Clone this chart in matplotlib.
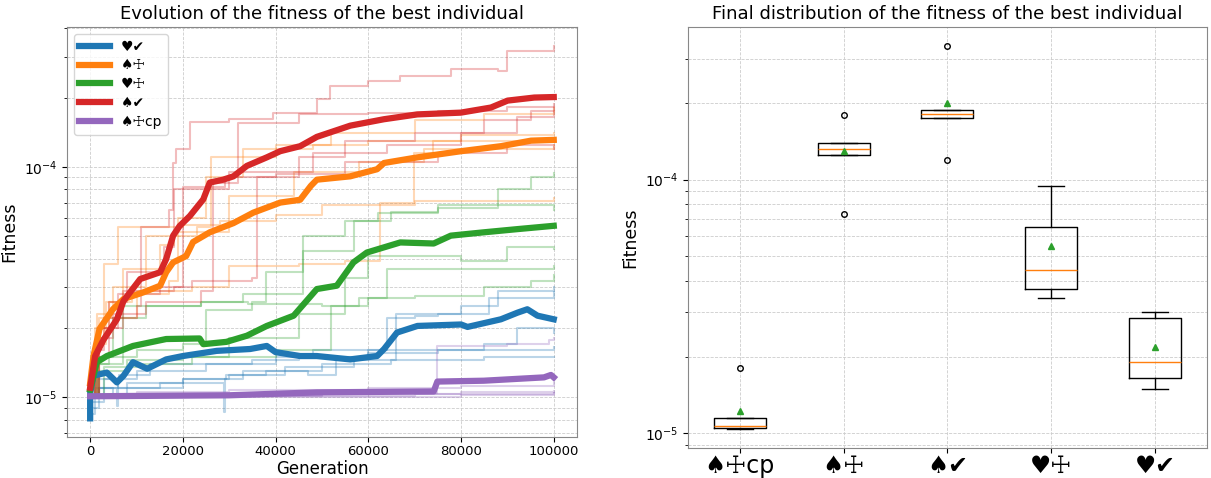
import numpy as np
import matplotlib.pyplot as plt

# legend / group labels and colours
labels = ["♥✔", "♠☩", "♥☩", "♠✔", "♠☩cp"]
colors = ["tab:blue", "tab:orange", "tab:green", "tab:red", "tab:purple"]

# thick lines: mean fitness of the best individual (generation, fitness)
mean_gen = {
    "♥✔": [0, 0, 720, 3600, 5770, 7200, 9240, 12300, 16400, 20000, 27300, 34500, 38100, 40000,
           45300, 48900, 56100, 61900, 63400, 66200, 70600, 80000, 81400, 88600, 92200, 94300,
           96500, 100000],
    "♠☩": [0, 720, 2020, 4900, 7200, 11400, 15100, 16400, 17900, 20700, 22200, 25800, 30900,
           35200, 41000, 45300, 47600, 48900, 56100, 61900, 63400, 70600, 80000, 88600, 95100,
           100000],
    "♥☩": [0, 1440, 3600, 9240, 16400, 23600, 24400, 29400, 33800, 38100, 43900, 48900, 53200,
           56800, 59700, 66900, 74100, 77800, 84900, 92200, 100000],
    "♠✔": [0, 1080, 2900, 5770, 7200, 10800, 15100, 16400, 17900, 19300, 21500, 24400, 25800,
           28700, 30900, 33800, 38100, 41000, 45300, 48900, 56100, 63350, 70570, 79950, 86450,
           90060, 95800, 100000],
    "♠☩cp": [0, 30000, 48900, 74100, 74900, 84900, 97900, 99400, 100000],
}
mean_fit = {
    "♥✔": [8.1e-6, 1.04e-5, 1.24e-5, 1.28e-5, 1.16e-5, 1.24e-5, 1.42e-5, 1.33e-5, 1.46e-5,
           1.51e-5, 1.59e-5, 1.62e-5, 1.67e-5, 1.57e-5, 1.51e-5, 1.51e-5, 1.46e-5, 1.51e-5,
           1.62e-5, 1.91e-5, 2.04e-5, 2.07e-5, 2.02e-5, 2.18e-5, 2.33e-5, 2.41e-5, 2.26e-5,
           2.18e-5],
    "♠☩": [1.15e-5, 1.51e-5, 1.98e-5, 2.41e-5, 2.67e-5, 2.85e-5, 3.05e-5, 3.49e-5, 3.85e-5,
           4.1e-5, 4.72e-5, 5.2e-5, 5.7e-5, 6.33e-5, 7.0e-5, 7.2e-5, 8.27e-5, 8.8e-5, 9.1e-5,
           9.77e-5, 1.04e-4, 1.1e-4, 1.17e-4, 1.23e-4, 1.3e-4, 1.31e-4],
    "♥☩": [1.08e-5, 1.42e-5, 1.51e-5, 1.67e-5, 1.79e-5, 1.8e-5, 1.7e-5, 1.74e-5, 1.85e-5,
           2.04e-5, 2.26e-5, 2.95e-5, 3.05e-5, 3.85e-5, 4.25e-5, 4.7e-5, 4.65e-5, 5.03e-5,
           5.2e-5, 5.37e-5, 5.55e-5],
    "♠✔": [1.1e-5, 1.51e-5, 1.78e-5, 2.18e-5, 2.62e-5, 3.26e-5, 3.49e-5, 3.98e-5, 5.03e-5,
           5.54e-5, 6.12e-5, 7.23e-5, 8.55e-5, 8.8e-5, 9.1e-5, 1.01e-4, 1.1e-4, 1.17e-4,
           1.23e-4, 1.35e-4, 1.51e-4, 1.61e-4, 1.69e-4, 1.72e-4, 1.81e-4, 1.94e-4, 2.0e-4,
           2.01e-4],
    "♠☩cp": [1.01e-5, 1.02e-5, 1.05e-5, 1.06e-5, 1.17e-5, 1.18e-5, 1.22e-5, 1.25e-5, 1.22e-5],
}

# thin lines: individual runs (generation, fitness), 5 runs per group
runs_gen = {
    "♥✔": [
        [0, 2000, 8000, 20000, 30000, 38000, 47000, 53000, 60000, 66000, 80000, 88000, 100000],
        [0, 3000, 10000, 25000, 40000, 48000, 64000, 70000, 75000, 86000, 100000],
        [0, 1500, 6000, 15000, 28800, 29000, 29300, 42000, 57000, 66000, 85000, 92000, 100000],
        [0, 2000, 5800, 6000, 6300, 13000, 35000, 45000, 60000, 75000, 100000],
        [0, 1000, 5000, 8000, 20000, 33000, 50000, 65000, 85000, 100000],
    ],
    "♠☩": [
        [0, 1500, 3000, 6000, 20000, 28000, 40000, 50000, 70000, 100000],
        [0, 2000, 10000, 22000, 30000, 45000, 55000, 62600, 69800, 74000, 100000],
        [0, 1000, 4000, 9000, 17000, 19000, 25000, 33000, 48000, 60000, 80000, 100000],
        [0, 1500, 5000, 12000, 23000, 26000, 40000, 52000, 70000, 85000, 100000],
        [0, 1000, 3500, 7000, 15000, 18000, 30000, 44000, 58000, 72000, 100000],
    ],
    "♥☩": [
        [0, 1000, 4000, 10000, 20000, 25000, 35000, 38000, 46000, 55000, 65000, 75000, 88000,
         95000, 100000],
        [0, 1500, 5000, 12000, 24000, 33000, 46000, 57000, 62000, 75000, 100000],
        [0, 2000, 8000, 20000, 30000, 45000, 55000, 60000, 80000, 90000, 100000],
        [0, 3000, 10000, 22000, 40000, 52000, 60000, 64000, 80000, 100000],
        [0, 2000, 7000, 24000, 34000, 50000, 58000, 70000, 85000, 95000, 100000],
    ],
    "♠✔": [
        [0, 1000, 3000, 10000, 11000, 17000, 17900, 18600, 21500, 30000, 39500, 48900, 51800,
         60000, 66900, 77800, 88000, 90000, 100000],
        [0, 1500, 5000, 12000, 24000, 26500, 32000, 45000, 60000, 75000, 90000, 100000],
        [0, 2000, 6000, 15000, 22000, 35000, 36000, 45000, 55000, 70000, 85000, 95000, 100000],
        [0, 1000, 4000, 8000, 16000, 18000, 30000, 48000, 64000, 80000, 92000, 100000],
        [0, 2000, 7000, 18000, 20000, 29000, 40000, 55000, 75000, 90000, 100000],
    ],
    "♠☩cp": [
        [0, 20000, 50000, 74900, 90000, 99000, 100000],
        [0, 10000, 30000, 60000, 80000, 100000],
        [0, 20000, 50000, 80000, 100000],
        [0, 30000, 70000, 100000],
        [0, 40000, 80000, 100000],
    ],
}
runs_fit = {
    "♥✔": [
        [9e-6, 1.1e-5, 1.15e-5, 1.2e-5, 1.25e-5, 1.3e-5, 1.25e-5, 1.5e-5, 1.6e-5, 2.3e-5,
         2.5e-5, 2.9e-5, 3.0e-5],
        [9.5e-6, 1.2e-5, 1.3e-5, 1.4e-5, 1.5e-5, 1.6e-5, 2.2e-5, 2.25e-5, 2.3e-5, 2.7e-5, 2.85e-5],
        [1e-5, 1.2e-5, 1.1e-5, 1.15e-5, 8.6e-6, 1.2e-5, 1.25e-5, 1.35e-5, 1.45e-5, 1.6e-5,
         1.7e-5, 2.0e-5, 1.9e-5],
        [1e-5, 1.1e-5, 9.2e-6, 1.15e-5, 1.25e-5, 1.4e-5, 1.45e-5, 1.5e-5, 1.55e-5, 1.6e-5, 1.65e-5],
        [8.5e-6, 1.1e-5, 1.0e-5, 1.1e-5, 1.2e-5, 1.3e-5, 1.4e-5, 1.45e-5, 1.5e-5, 1.5e-5],
    ],
    "♠☩": [
        [1e-5, 1.8e-5, 3.8e-5, 5.5e-5, 5.6e-5, 5.8e-5, 6.2e-5, 6.8e-5, 7.1e-5, 7.3e-5],
        [1e-5, 2.2e-5, 2.9e-5, 3.0e-5, 3.7e-5, 3.8e-5, 3.9e-5, 7e-5, 1.15e-4, 1.3e-4, 1.32e-4],
        [1e-5, 2e-5, 2.6e-5, 2.8e-5, 3.2e-5, 6e-5, 9e-5, 1.2e-4, 1.25e-4, 1.3e-4, 1.38e-4, 1.4e-4],
        [1e-5, 2.3e-5, 3e-5, 5e-5, 5.5e-5, 1.1e-4, 1.25e-4, 1.4e-4, 1.6e-4, 1.7e-4, 1.8e-4],
        [1e-5, 1.7e-5, 2.6e-5, 3.6e-5, 4.6e-5, 5.2e-5, 7.5e-5, 9.5e-5, 1.05e-4, 1.2e-4, 1.25e-4],
    ],
    "♥☩": [
        [1e-5, 1.4e-5, 1.5e-5, 1.6e-5, 1.7e-5, 2.4e-5, 2.6e-5, 3.5e-5, 5e-5, 5.8e-5, 6.4e-5,
         6.6e-5, 8e-5, 9e-5, 9.4e-5],
        [1e-5, 1.5e-5, 2.2e-5, 2.5e-5, 2.6e-5, 2.8e-5, 4.3e-5, 5.8e-5, 6.3e-5, 6.8e-5, 6.5e-5],
        [1e-5, 1.3e-5, 1.45e-5, 1.5e-5, 1.8e-5, 2.3e-5, 3.3e-5, 4.1e-5, 3.9e-5, 4.5e-5, 4.4e-5],
        [1e-5, 1.35e-5, 1.4e-5, 1.5e-5, 1.6e-5, 2.5e-5, 2.7e-5, 3.6e-5, 3.6e-5, 3.7e-5],
        [1e-5, 1.4e-5, 2.5e-5, 2.6e-5, 2.55e-5, 2.5e-5, 2.7e-5, 2.75e-5, 3e-5, 3.2e-5, 3.4e-5],
    ],
    "♠✔": [
        [1.0e-5, 1.6e-5, 2.2e-5, 2.5e-5, 5.5e-5, 6.5e-5, 1.04e-4, 1.2e-4, 1.56e-4, 1.62e-4,
         1.72e-4, 1.97e-4, 2.25e-4, 2.35e-4, 2.49e-4, 2.66e-4, 2.6e-4, 3.19e-4, 3.36e-4],
        [1.0e-5, 1.8e-5, 2.3e-5, 2.6e-5, 2.9e-5, 8.5e-5, 1.55e-4, 1.7e-4, 1.72e-4, 1.75e-4,
         1.82e-4, 1.88e-4],
        [1.0e-5, 2e-5, 2.8e-5, 3e-5, 3.2e-5, 3.3e-5, 9e-5, 1.1e-4, 1.3e-4, 1.4e-4, 1.6e-4,
         1.75e-4, 1.82e-4],
        [1e-5, 1.5e-5, 2.6e-5, 3.5e-5, 4.5e-5, 8e-5, 9.5e-5, 1.15e-4, 1.25e-4, 1.4e-4, 1.65e-4,
         1.75e-4],
        [1e-5, 2e-5, 2.9e-5, 3.0e-5, 8.2e-5, 9e-5, 9.3e-5, 1.05e-4, 1.15e-4, 1.25e-4, 1.2e-4],
    ],
    "♠☩cp": [
        [1e-5, 1.02e-5, 1.04e-5, 1.67e-5, 1.7e-5, 1.78e-5, 1.8e-5],
        [1e-5, 1.05e-5, 1.08e-5, 1.1e-5, 1.12e-5, 1.15e-5],
        [1e-5, 1.01e-5, 1.03e-5, 1.05e-5, 1.07e-5],
        [1e-5, 1.01e-5, 1.03e-5, 1.045e-5],
        [1e-5, 1.0e-5, 1.02e-5, 1.04e-5],
    ],
}

# final fitness of each run, for the box plot
box_order = ["♠☩cp", "♠☩", "♠✔", "♥☩", "♥✔"]
final_fit = {
    "♠☩cp": [1.04e-5, 1.045e-5, 1.07e-5, 1.15e-5, 1.8e-5],
    "♠☩": [7.3e-5, 1.25e-4, 1.32e-4, 1.4e-4, 1.8e-4],
    "♠✔": [1.2e-4, 1.75e-4, 1.82e-4, 1.88e-4, 3.36e-4],
    "♥☩": [3.4e-5, 3.7e-5, 4.4e-5, 6.5e-5, 9.4e-5],
    "♥✔": [1.5e-5, 1.65e-5, 1.9e-5, 2.85e-5, 3.0e-5],
}

plt.rcParams['font.family'] = ['DejaVu Sans']
fig = plt.figure(figsize=(12.11, 4.78), dpi=100)
ax1 = fig.add_axes([0.0553, 0.0858, 0.4211, 0.8577])
ax2 = fig.add_axes([0.568, 0.0628, 0.4286, 0.8807])

# left: evolution
for lab, col in zip(labels, colors):
    for g, f in zip(runs_gen[lab], runs_fit[lab]):
        ax1.plot(g, f, color=col, alpha=0.3, lw=1.5, drawstyle='steps-post')
for lab, col in zip(labels, colors):
    ax1.plot(mean_gen[lab], mean_fit[lab], color=col, lw=4.5, label=lab)

ax1.set_yscale('log')
ax1.set_title("Evolution of the fitness of the best individual", fontsize=13)
ax1.set_xlabel("Generation", fontsize=12, labelpad=1)
ax1.set_ylabel("Fitness", fontsize=12.5)
ax1.tick_params(axis='x', labelsize=9.5, pad=2.5)
ax1.tick_params(axis='y', labelsize=10)
ax1.grid(True, which='both', ls='--', lw=0.6, color='#cccccc')
ax1.legend(loc='upper left', fontsize=10, labelspacing=0.35, handlelength=2.2)

# right: final distribution
data = [final_fit[k] for k in box_order]
ax2.boxplot(data, showmeans=True,
            flierprops=dict(markersize=4),
            meanprops=dict(markersize=5))
ax2.set_yscale('log')
ax2.set_xticks(range(1, len(box_order) + 1))
ax2.set_xticklabels(box_order, fontsize=17)
ax2.tick_params(axis='x', pad=1)
ax2.set_title("Final distribution of the fitness of the best individual", fontsize=13)
ax2.set_ylabel("Fitness", fontsize=12.5)
ax2.tick_params(axis='y', labelsize=10)
ax2.grid(True, which='both', ls='--', lw=0.6, color='#cccccc')

for ax in (ax1, ax2):
    for s in ax.spines.values():
        s.set_color('#888888')

fig.savefig("out.png", dpi=100)
